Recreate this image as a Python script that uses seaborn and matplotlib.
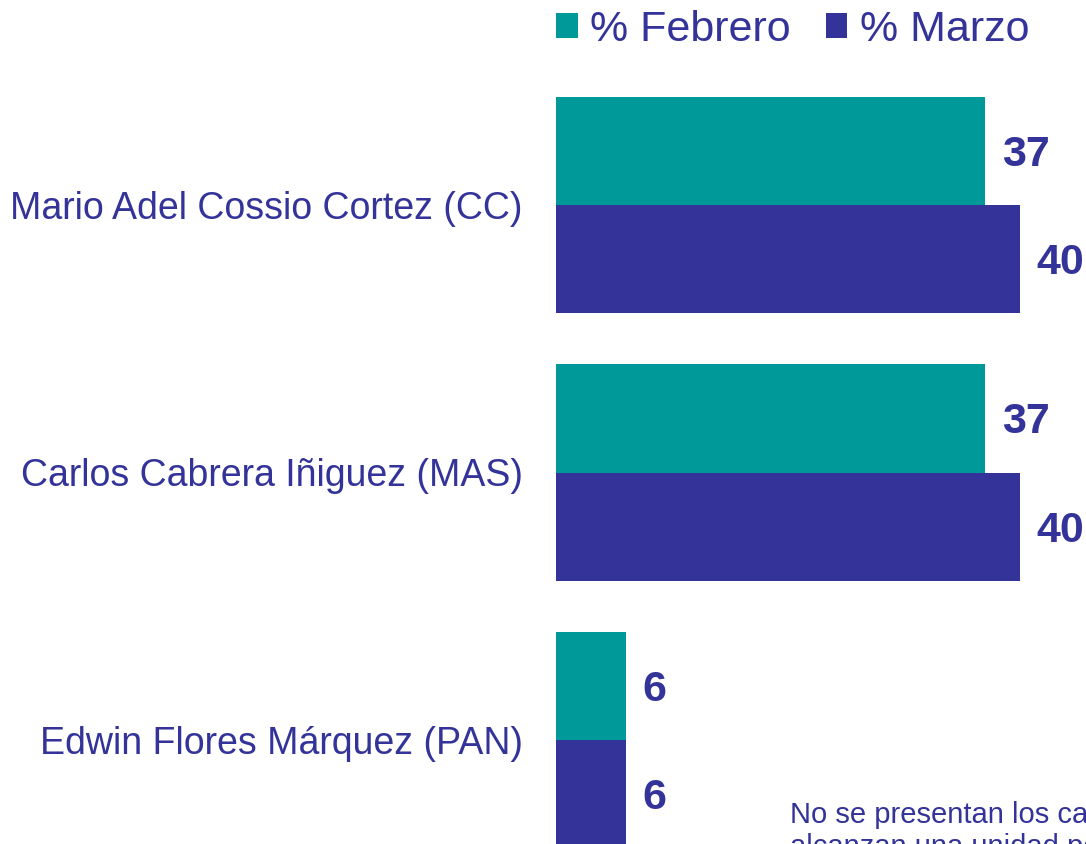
import pandas as pd
import matplotlib
matplotlib.use("Agg")
import matplotlib.pyplot as plt
import seaborn as sns

candidatos = [
    "Mario Adel Cossio Cortez (CC)",
    "Carlos Cabrera Iñiguez (MAS)",
    "Edwin Flores Márquez (PAN)",
]
febrero = [37, 37, 6]
marzo = [40, 40, 6]
meses = ["% Febrero", "% Marzo"]
nota = "No se presentan los candidatos que no\nalcanzan una unidad porcentual"

colores = ["#009999", "#333399"]
azul = "#333399"

df = pd.DataFrame({
    "candidato": candidatos * 2,
    "valor": febrero + marzo,
    "mes": [meses[0]] * len(candidatos) + [meses[1]] * len(candidatos),
})

sns.set_theme(style="white")
plt.rcParams["font.family"] = ["Liberation Sans", "DejaVu Sans"]

W, H = 1086, 844
fig = plt.figure(figsize=(W / 100, H / 100), dpi=100)
ax = fig.add_axes([556 / W, 0, (W - 556) / W, 1])

sns.barplot(data=df, y="candidato", x="valor", hue="mes", orient="h",
            palette=colores, saturation=1, width=0.81, linewidth=0, ax=ax)

for cont in ax.containers:
    labels = ax.bar_label(cont, padding=12, fontsize=31, fontweight="bold", color=azul)
    for t in labels:
        # nudge a few pixels down like the original
        x, y = t.xyann
        t.xyann = (x, y - 3)

ax.set_xlim(0, (W - 556) / 11.6)
ax.set_ylim((H - 205) / 267.5, -205 / 267.5)
ax.set_xlabel("")
ax.set_ylabel("")
ax.set_xticks([])
ax.tick_params(axis="y", length=0, pad=24, labelsize=27, labelcolor=azul)
for s in ax.spines.values():
    s.set_visible(False)

sns.move_legend(ax, "center left", bbox_to_anchor=(556 / W, 1 - 30 / H),
                bbox_transform=fig.transFigure, ncol=2, frameon=False,
                title=None, fontsize=31, handlelength=0.5, handleheight=0.5,
                handletextpad=0.3, columnspacing=0.8, borderpad=0,
                borderaxespad=0)
for t in ax.get_legend().get_texts():
    t.set_color(azul)

fig.text(790 / W, 1 - 801 / H, nota, fontsize=21, color=azul,
         va="top", ha="left", linespacing=1.2)

fig.savefig("out.png", dpi=100)
